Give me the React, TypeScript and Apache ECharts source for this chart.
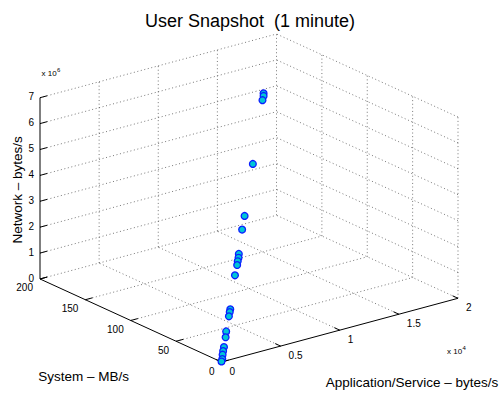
import React, { useEffect, useRef } from 'react';
import * as echarts from 'echarts';

const TITLE = 'User Snapshot  (1 minute)';
const X_LABEL = 'Application/Service – bytes/s';
const Y_LABEL = 'System – MB/s';
const Z_LABEL = 'Network – bytes/s';

// data points (Application/Service bytes/s, System MB/s, Network bytes/s)
const appBytes = [15300, 15300, 14900, 11400, 8400, 7500, 6300, 6200, 5900, 5700, 4900, 3200, 3000, 2700, 1700, 1500, 900, 600, 400, 300, 0];
const systemMB = [153, 153, 149, 114, 84, 75, 63, 62, 59, 57, 49, 32, 30, 27, 17, 15, 9, 6, 4, 3, 0];
const networkBytes = [6040000, 5940000, 5890000, 4420000, 3260000, 2990000, 2390000, 2270000, 2220000, 2130000, 1960000, 1130000, 1080000, 1000000, 700000, 530000, 320000, 250000, 170000, 30000, 20000];

// axes
const appTicks = [0, 5000, 10000, 15000, 20000];
const appTickLabels = ['0', '0.5', '1', '1.5', '2'];
const sysTicks = [0, 50, 100, 150, 200];
const sysTickLabels = ['0', '50', '100', '150', '200'];
const netTicks = [0, 1e6, 2e6, 3e6, 4e6, 5e6, 6e6, 7e6];
const netTickLabels = ['0', '1', '2', '3', '4', '5', '6', '7'];
const X_MAX = 20000;
const Y_MAX = 200;
const Z_MAX = 7e6;
const X_EXP = '4';
const Z_EXP = '6';

// MATLAB default 3-D view
const AZ = -37.5;
const EL = 30;
const az = (AZ * Math.PI) / 180;
const el = (EL * Math.PI) / 180;

function project(x: number, y: number, z: number): number[] {
  const nx = x / X_MAX;
  const ny = y / Y_MAX;
  const nz = z / Z_MAX;
  return [
    Math.cos(az) * nx + Math.sin(az) * ny,
    -Math.sin(el) * Math.sin(az) * nx + Math.sin(el) * Math.cos(az) * ny + Math.cos(el) * nz,
  ];
}

const FONT = 'Liberation Sans, Arial, Helvetica, sans-serif';
const TICK = 0.03;

type Seg = { a: number[]; b: number[]; kind: 'grid' | 'axis' };
const segs: Seg[] = [];
// floor grid (z = 0)
for (const x of appTicks.slice(1)) segs.push({ a: [x, 0, 0], b: [x, Y_MAX, 0], kind: 'grid' });
for (const y of sysTicks.slice(1)) segs.push({ a: [0, y, 0], b: [X_MAX, y, 0], kind: 'grid' });
// back wall (y = Y_MAX)
for (const x of appTicks.slice(1)) segs.push({ a: [x, Y_MAX, 0], b: [x, Y_MAX, Z_MAX], kind: 'grid' });
for (const z of netTicks.slice(1)) segs.push({ a: [0, Y_MAX, z], b: [X_MAX, Y_MAX, z], kind: 'grid' });
// right wall (x = X_MAX)
for (const y of sysTicks.slice(0, -1)) segs.push({ a: [X_MAX, y, 0], b: [X_MAX, y, Z_MAX], kind: 'grid' });
for (const z of netTicks.slice(1)) segs.push({ a: [X_MAX, 0, z], b: [X_MAX, Y_MAX, z], kind: 'grid' });
// axis lines
segs.push({ a: [0, 0, 0], b: [X_MAX, 0, 0], kind: 'axis' });
segs.push({ a: [0, 0, 0], b: [0, Y_MAX, 0], kind: 'axis' });
segs.push({ a: [0, Y_MAX, 0], b: [0, Y_MAX, Z_MAX], kind: 'axis' });
// tick marks
for (const x of appTicks) segs.push({ a: [x, 0, 0], b: [x, TICK * Y_MAX, 0], kind: 'axis' });
for (const y of sysTicks) segs.push({ a: [0, y, 0], b: [TICK * X_MAX, y, 0], kind: 'axis' });
for (const z of netTicks) segs.push({ a: [0, Y_MAX, z], b: [TICK * X_MAX, Y_MAX, z], kind: 'axis' });

type Lab = {
  p: number[];
  text: string;
  dx: number;
  dy: number;
  align: 'left' | 'right' | 'center';
  size: number;
  rotate?: number;
  sup?: string;
};
const labs: Lab[] = [];
appTicks.forEach((x, i) => labs.push({ p: [x, 0, 0], text: appTickLabels[i], dx: 8, dy: 9.5, align: 'left', size: 10 }));
sysTicks.forEach((y, i) => labs.push({ p: [0, y, 0], text: sysTickLabels[i], dx: -7, dy: 9, align: 'right', size: 10 }));
netTicks.forEach((z, i) => labs.push({ p: [0, Y_MAX, z], text: netTickLabels[i], dx: -6, dy: -0.8, align: 'right', size: 10 }));
labs.push({ p: [0, Y_MAX, Z_MAX], text: 'x 10', dx: 1.5, dy: -24.5, align: 'left', size: 8, sup: Z_EXP });
labs.push({ p: [X_MAX, 0, 0], text: 'x 10', dx: -11, dy: 53.5, align: 'left', size: 8, sup: X_EXP });
labs.push({ p: [0, Y_MAX, Z_MAX / 2], text: Z_LABEL, dx: -23, dy: 1.5, align: 'center', size: 13.5, rotate: Math.PI / 2 });
labs.push({ p: [0, Y_MAX / 2, 0], text: Y_LABEL, dx: -47, dy: 56.5, align: 'center', size: 13.5 });
labs.push({ p: [X_MAX / 2, 0, 0], text: X_LABEL, dx: -14, dy: 52, align: 'left', size: 13.5 });

const corners: number[][] = [];
for (const x of [0, X_MAX]) for (const y of [0, Y_MAX]) for (const z of [0, Z_MAX]) corners.push(project(x, y, z));
const vxMin = Math.min(...corners.map((c) => c[0]));
const vxMax = Math.max(...corners.map((c) => c[0]));
const vyMin = Math.min(...corners.map((c) => c[1]));
const vyMax = Math.max(...corners.map((c) => c[1]));

export default function App() {
  const ref = useRef<HTMLDivElement>(null);
  useEffect(() => {
    if (!ref.current) return;
    const chart = echarts.init(ref.current, undefined, { renderer: 'svg' });
    chart.setOption({
      animation: false,
      backgroundColor: '#ffffff',
      title: {
        text: TITLE,
        left: 'center',
        top: 7,
        textStyle: { fontFamily: FONT, fontSize: 18, fontWeight: 'normal', color: '#000' },
      },
      grid: { left: 40, right: 42, top: 34, bottom: 31 },
      xAxis: { type: 'value', min: vxMin, max: vxMax, show: false },
      yAxis: { type: 'value', min: vyMin, max: vyMax, show: false },
      series: [
        {
          type: 'custom',
          name: 'frame',
          coordinateSystem: 'cartesian2d',
          silent: true,
          data: segs.map((s) => [...s.a, ...s.b]),
          renderItem: (params: any, api: any) => {
            const pa = api.coord(project(api.value(0), api.value(1), api.value(2)));
            const pb = api.coord(project(api.value(3), api.value(4), api.value(5)));
            const kind = segs[params.dataIndex].kind;
            return {
              type: 'line',
              shape: { x1: pa[0], y1: pa[1], x2: pb[0], y2: pb[1] },
              style:
                kind === 'grid'
                  ? { stroke: '#444', lineWidth: 0.9, lineDash: [1, 2.6], opacity: 0.8 }
                  : { stroke: '#000', lineWidth: 1 },
            };
          },
        },
        {
          type: 'custom',
          name: 'labels',
          coordinateSystem: 'cartesian2d',
          silent: true,
          data: labs.map((l) => l.p),
          renderItem: (params: any, api: any) => {
            const l = labs[params.dataIndex];
            const p = api.coord(project(api.value(0), api.value(1), api.value(2)));
            const children: any[] = [
              {
                type: 'text',
                x: p[0] + l.dx,
                y: p[1] + l.dy,
                rotation: l.rotate || 0,
                style: {
                  text: l.text,
                  fill: '#000',
                  fontSize: l.size,
                  fontFamily: FONT,
                  align: l.align,
                  verticalAlign: 'middle',
                },
              },
            ];
            if (l.sup) {
              children.push({
                type: 'text',
                x: p[0] + l.dx + l.size * 1.95,
                y: p[1] + l.dy - 3.5,
                style: { text: l.sup, fill: '#000', fontSize: 6, fontFamily: FONT, align: 'left', verticalAlign: 'middle' },
              });
            }
            return { type: 'group', children };
          },
        },
        {
          type: 'custom',
          name: 'points',
          coordinateSystem: 'cartesian2d',
          data: appBytes.map((a, i) => [a, systemMB[i], networkBytes[i]]),
          renderItem: (params: any, api: any) => {
            const p = api.coord(project(api.value(0), api.value(1), api.value(2)));
            return {
              type: 'circle',
              shape: { cx: p[0], cy: p[1], r: 3.4 },
              style: { fill: '#00c6d6', stroke: '#0a1eff', lineWidth: 1.3 },
            };
          },
        },
      ],
    });
    return () => chart.dispose();
  }, []);
  return <div ref={ref} style={{ position: 'fixed', left: 0, top: 0, width: 500, height: 393 }} />;
}
